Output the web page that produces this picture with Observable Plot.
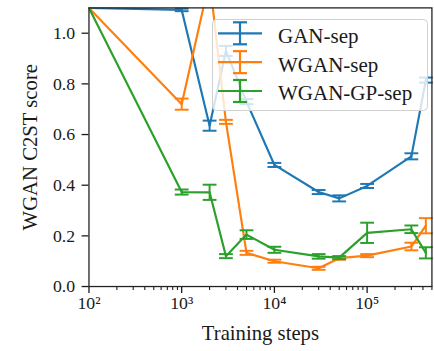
<!DOCTYPE html>
<html><head><meta charset="utf-8">
<script src="https://cdn.jsdelivr.net/npm/d3@7"></script>
<script src="https://cdn.jsdelivr.net/npm/@observablehq/plot@0.6"></script>
<style>
html,body{margin:0;padding:0;overflow:hidden;background:#fff;}
#wrap{position:relative;width:434px;height:351px;overflow:hidden;}
#wrap svg.legend{position:absolute;left:212px;top:19px;}
</style></head><body><div id="wrap"></div>
<script>
const steps = [100, 1000, 2000, 3000, 5000, 10000, 30000, 50000, 100000, 300000, 430000];
const seriesNames = ["GAN-sep", "WGAN-sep", "WGAN-GP-sep"];
const ganMean  = [1.1, 1.092, 0.635, 0.93, 0.73, 0.48, 0.373, 0.348, 0.397, 0.514, 0.815];
const ganErr   = [0, 0.005, 0.02, 0.02, 0.01, 0.008, 0.008, 0.012, 0.008, 0.012, 0.01];
const wganMean = [1.1, 0.72, 1.21, 0.65, 0.133, 0.10, 0.072, 0.112, 0.122, 0.158, 0.24];
const wganErr  = [0, 0.022, 0.02, 0.008, 0.008, 0.006, 0.006, 0.006, 0.006, 0.015, 0.03];
const gpMean   = [1.1, 0.373, 0.372, 0.12, 0.205, 0.145, 0.119, 0.114, 0.212, 0.226, 0.133];
const gpErr    = [0, 0.01, 0.03, 0.008, 0.017, 0.012, 0.009, 0.006, 0.04, 0.015, 0.022];
const colors = ["#1f77b4", "#ff7f0e", "#2ca02c"];
const xMajorTicks = [1e2, 1e3, 1e4, 1e5];
const xMajorLabels = ["10²", "10³", "10⁴", "10⁵"];
const yTicks = [0, 0.2, 0.4, 0.6, 0.8, 1.0];
const yTickLabels = ["0.0", "0.2", "0.4", "0.6", "0.8", "1.0"];
const xLabel = "Training steps";
const yLabel = "WGAN C2ST score";

const means = [ganMean, wganMean, gpMean];
const errs = [ganErr, wganErr, gpErr];
const rows = [];
seriesNames.forEach((name, i) => means[i].forEach((m, j) =>
  rows.push({series: name, step: steps[j], mean: m, err: errs[i][j]})));

const xMinorTicks = [];
for (let e = 2; e <= 5; e++) for (let k = 2; k <= 9; k++) { const v = k * 10 ** e; if (v <= 5e5) xMinorTicks.push(v); }

const cap = {draw(ctx, size) { const r = Math.sqrt(size / Math.PI); ctx.moveTo(-r, 0); ctx.lineTo(r, 0); }};
const font = "'Liberation Serif', serif";
const W = 440;

const chart = Plot.plot({
  width: W, height: 351,
  marginLeft: 89.7, marginRight: W - 437.4, marginTop: 7.5, marginBottom: 61,
  x: {type: "log", domain: [100, 5e5]},
  y: {domain: [0, 1.1]},
  color: {domain: seriesNames, range: colors},
  style: {fontFamily: font, background: "white", color: "#1a1a1a", overflow: "visible"},
  marks: [
    Plot.axisX(xMinorTicks, {tickSize: 4, tickFormat: () => "", label: null, strokeWidth: 1.1}),
    Plot.axisX(xMajorTicks, {tickSize: 7, tickPadding: 3, label: null, strokeWidth: 1.3, fontSize: 18,
      tickFormat: d => xMajorLabels[xMajorTicks.indexOf(d)]}),
    Plot.axisY(yTicks, {tickSize: 7, tickPadding: 7, label: null, strokeWidth: 1.3, fontSize: 18,
      tickFormat: d => yTickLabels[yTicks.indexOf(d)]}),
    ...seriesNames.flatMap(name => {
      const d = rows.filter(r => r.series === name);
      const e = d.filter(r => r.err > 0);
      return [
        Plot.line(d, {x: "step", y: "mean", stroke: "series", strokeWidth: 2.2, clip: true}),
        Plot.ruleX(e, {x: "step", y1: r => r.mean - r.err, y2: r => r.mean + r.err, stroke: "series", strokeWidth: 2}),
        Plot.dot(e, {x: "step", y: r => r.mean + r.err, symbol: cap, r: 7, stroke: "series", strokeWidth: 2, fill: "none"}),
        Plot.dot(e, {x: "step", y: r => r.mean - r.err, symbol: cap, r: 7, stroke: "series", strokeWidth: 2, fill: "none"})
      ];
    }),
    Plot.frame({stroke: "#222", strokeWidth: 1.3}),
    Plot.text([xLabel], {text: d => d, frameAnchor: "bottom", lineAnchor: "middle", textAnchor: "middle", dy: 47.3, fontSize: 21}),
    Plot.text([yLabel], {text: d => d, frameAnchor: "left", lineAnchor: "middle", textAnchor: "middle", dx: -59.4, rotate: -90, fontSize: 21})
  ]
});
const wrap = document.getElementById("wrap");
wrap.appendChild(chart);

// legend overlay
const lg = d3.create("svg").attr("class", "legend").attr("width", 216).attr("height", 92);
lg.append("rect").attr("x", 0.5).attr("y", 0.5).attr("width", 215).attr("height", 91).attr("rx", 4)
  .attr("fill", "white").attr("fill-opacity", 0.8).attr("stroke", "#d0d0d0");
seriesNames.forEach((name, i) => {
  const cy = 14.3 + i * 28.85;
  const g = lg.append("g").attr("stroke", colors[i]).attr("stroke-width", 2.2);
  g.append("line").attr("x1", 6).attr("x2", 50).attr("y1", cy).attr("y2", cy);
  g.append("line").attr("x1", 28).attr("x2", 28).attr("y1", cy - 11).attr("y2", cy + 11);
  g.append("line").attr("x1", 21).attr("x2", 35).attr("y1", cy - 11).attr("y2", cy - 11);
  g.append("line").attr("x1", 21).attr("x2", 35).attr("y1", cy + 11).attr("y2", cy + 11);
  lg.append("text").attr("x", 66).attr("y", cy + 9.4).attr("font-family", font).attr("font-size", 21)
    .attr("fill", "#1a1a1a").text(name);
});
wrap.appendChild(lg.node());
</script></body></html>
